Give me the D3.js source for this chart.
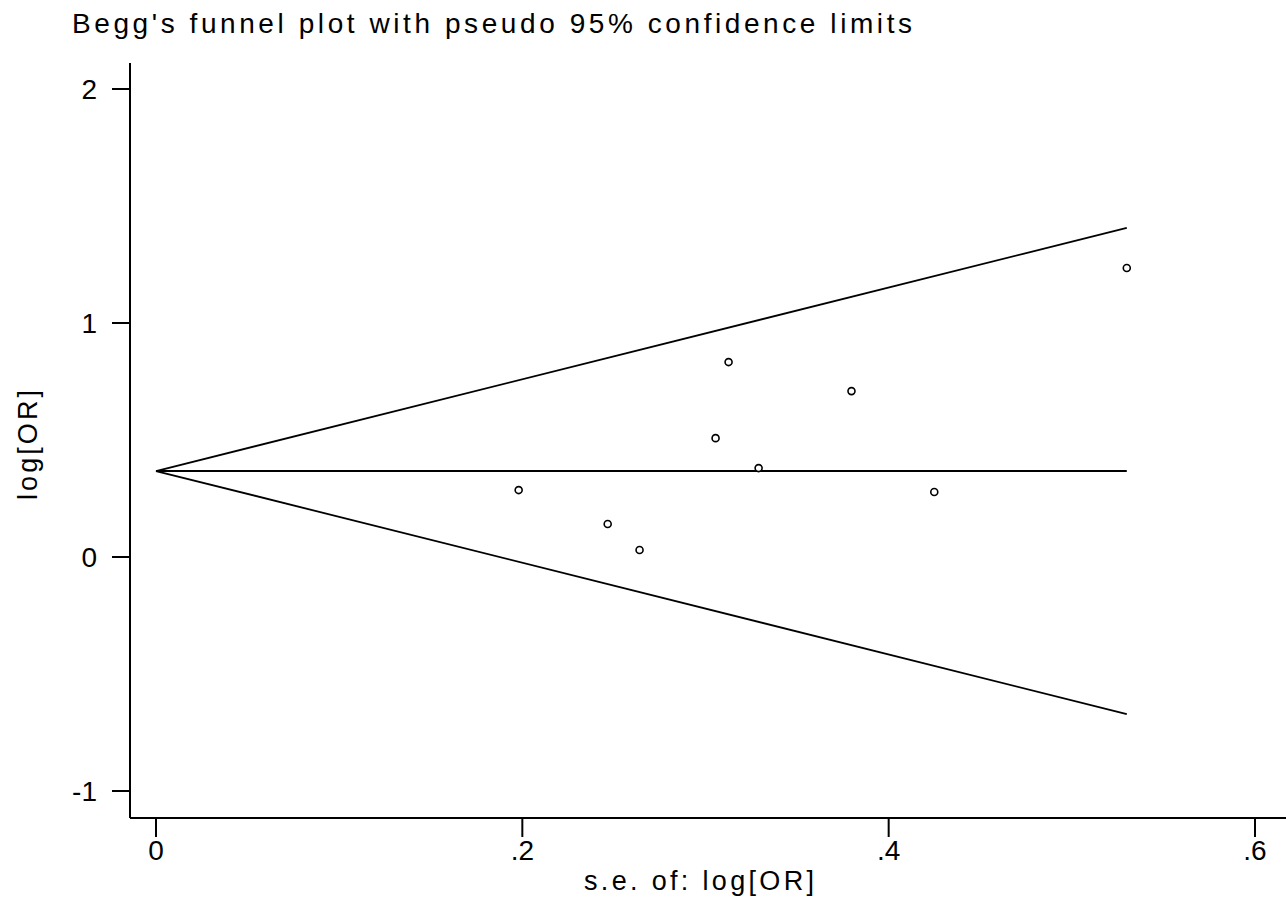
<!DOCTYPE html>
<html>
<head>
<meta charset="utf-8">
<script src="https://cdn.jsdelivr.net/npm/d3@7"></script>
<style>
  body { margin: 0; background: #fff; }
  text { font-family: "Liberation Sans", Arial, sans-serif; fill: #000; }
</style>
</head>
<body>
<script>
"use strict";

// study standard errors and log odds ratios
var se    = [0.198, 0.2466, 0.264, 0.3055, 0.3126, 0.329, 0.3797, 0.4249, 0.530];
var logOR = [0.286, 0.141, 0.030, 0.508, 0.833, 0.380, 0.709, 0.278, 1.235];
var pooled = 0.3675;
var seMax = 0.530;
var xTicks = [0, 0.2, 0.4, 0.6];
var yTicks = [-1, 0, 1, 2];

var width = 1286, height = 899;

var svg = d3.select("body").append("svg")
    .attr("width", width)
    .attr("height", height);

var x = d3.scaleLinear().domain([0, 0.6]).range([156, 1255]);
var y = d3.scaleLinear().domain([-1, 2]).range([791, 89]);

var axisLeft = 130, axisBottom = 818;

// title
svg.append("text")
    .attr("x", 72).attr("y", 33)
    .attr("textLength", 840)
    .attr("lengthAdjust", "spacing")
    .style("font-size", "28px")
    .text("Begg's funnel plot with pseudo 95% confidence limits");

// axes lines
svg.append("line")
    .attr("x1", axisLeft).attr("x2", axisLeft)
    .attr("y1", 63).attr("y2", axisBottom)
    .style("stroke", "#000").style("stroke-width", 2);
svg.append("line")
    .attr("x1", axisLeft).attr("x2", width)
    .attr("y1", axisBottom).attr("y2", axisBottom)
    .style("stroke", "#000").style("stroke-width", 2);

var fmt = function(d){ return d === 0 ? "0" : String(d).replace(/^0/, ""); };

// y ticks
svg.append("g").selectAll("line")
    .data(yTicks).enter().append("line")
    .attr("x1", axisLeft - 18).attr("x2", axisLeft)
    .attr("y1", function(d){ return y(d); })
    .attr("y2", function(d){ return y(d); })
    .style("stroke", "#000").style("stroke-width", 2);
svg.append("g").selectAll("text")
    .data(yTicks).enter().append("text")
    .attr("x", axisLeft - 33)
    .attr("y", function(d){ return y(d) + 10; })
    .attr("text-anchor", "end")
    .style("font-size", "28px")
    .text(function(d){ return d; });

// x ticks
svg.append("g").selectAll("line")
    .data(xTicks).enter().append("line")
    .attr("x1", function(d){ return x(d); })
    .attr("x2", function(d){ return x(d); })
    .attr("y1", axisBottom).attr("y2", axisBottom + 19)
    .style("stroke", "#000").style("stroke-width", 2);
svg.append("g").selectAll("text")
    .data(xTicks).enter().append("text")
    .attr("x", function(d){ return x(d); })
    .attr("y", axisBottom + 42)
    .attr("text-anchor", "middle")
    .style("font-size", "28px")
    .text(fmt);

// axis titles
svg.append("text")
    .attr("x", 584).attr("y", 890)
    .attr("textLength", 230)
    .attr("lengthAdjust", "spacing")
    .style("font-size", "27px")
    .text("s.e. of: log[OR]");
svg.append("text")
    .attr("transform", "translate(37,500) rotate(-90)")
    .attr("textLength", 110)
    .attr("lengthAdjust", "spacing")
    .style("font-size", "27px")
    .text("log[OR]");

// funnel lines
var funnel = [
  [[0, pooled], [seMax, pooled + 1.96 * seMax]],
  [[0, pooled], [seMax, pooled]],
  [[0, pooled], [seMax, pooled - 1.96 * seMax]]
];
var line = d3.line()
    .x(function(d){ return x(d[0]); })
    .y(function(d){ return y(d[1]); });
svg.append("g").selectAll("path")
    .data(funnel).enter().append("path")
    .attr("d", line)
    .style("fill", "none")
    .style("stroke", "#000")
    .style("stroke-width", 1.8);

// study points
svg.append("g").selectAll("circle")
    .data(se).enter().append("circle")
    .attr("cx", function(d){ return x(d); })
    .attr("cy", function(d, i){ return y(logOR[i]); })
    .attr("r", 3.5)
    .style("fill", "#fff")
    .style("stroke", "#000")
    .style("stroke-width", 1.6);
</script>
</body>
</html>
